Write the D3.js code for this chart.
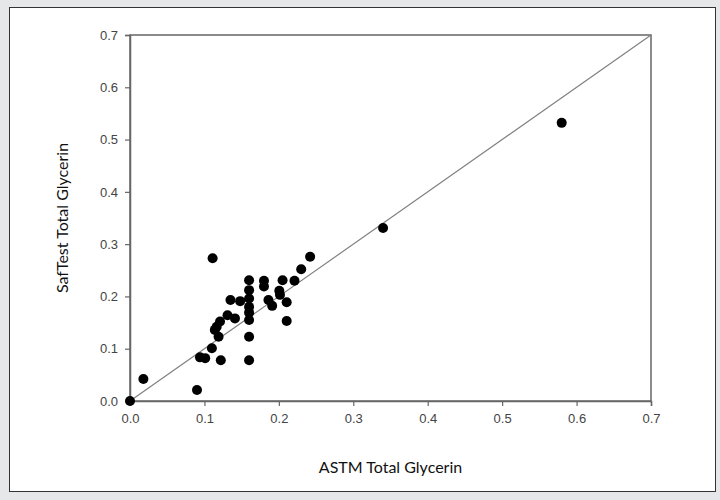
<!DOCTYPE html>
<html lang="en">
<head>
    <meta charset="UTF-8">
    <title>SafTest vs ASTM Total Glycerin</title>
    <style>
        body { margin: 0; background: #e6e7e9; font-family: Arial, "Liberation Sans", sans-serif; }
        svg { display: block; }
        .tick text { font-family: Arial, "Liberation Sans", sans-serif; font-size: 13px; fill: #444; }
        .axis-title { font-family: Lato, "Open Sans", sans-serif; font-size: 16px; fill: #111; }
    </style>
</head>
<body>
    <div id="chart"></div>
    <script src="https://cdnjs.cloudflare.com/ajax/libs/d3/7.8.5/d3.min.js"></script>
    <script>
        // data
        const astm = [0, 0.018, 0.09, 0.094, 0.101, 0.110, 0.111, 0.114, 0.1165, 0.119, 0.121, 0.122,
            0.131, 0.135, 0.141, 0.148,
            0.160, 0.160, 0.160, 0.160, 0.160, 0.160, 0.160, 0.160,
            0.180, 0.180, 0.186, 0.191, 0.2006, 0.2015, 0.205, 0.2105, 0.2105, 0.221, 0.230, 0.242,
            0.34, 0.58];
        const saftest = [0, 0.042, 0.021, 0.0835, 0.082, 0.101, 0.273, 0.136, 0.142, 0.123, 0.152, 0.078,
            0.164, 0.193, 0.158, 0.191,
            0.231, 0.212, 0.196, 0.180, 0.169, 0.155, 0.123, 0.078,
            0.230, 0.219, 0.193, 0.182, 0.211, 0.203, 0.231, 0.189, 0.153, 0.230, 0.252, 0.276,
            0.331, 0.532];
        const tickValues = [0, 0.1, 0.2, 0.3, 0.4, 0.5, 0.6, 0.7];
        const xTitle = "ASTM Total Glycerin";
        const yTitle = "SafTest Total Glycerin";

        const W = 720, H = 500;
        const svg = d3.select("#chart").append("svg").attr("width", W).attr("height", H);

        // white panel
        svg.append("rect")
            .attr("x", 9.5).attr("y", 7.5)
            .attr("width", 706).attr("height", 484)
            .attr("fill", "#fff").attr("stroke", "#333").attr("stroke-width", 1);

        const x = d3.scaleLinear().domain([0, 0.7]).range([130, 651]);
        const y = d3.scaleLinear().domain([0, 0.7]).range([401, 35]);

        // frame
        svg.append("rect")
            .attr("x", x(0)).attr("y", y(0.7))
            .attr("width", x(0.7) - x(0)).attr("height", y(0) - y(0.7))
            .attr("fill", "none").attr("stroke", "#666").attr("stroke-width", 1.5);

        const xAxis = svg.append("g")
            .attr("transform", `translate(0,${y(0)})`)
            .call(d3.axisBottom(x).tickValues(tickValues).tickFormat(d3.format(".1f")).tickSize(5).tickPadding(8));
        const yAxis = svg.append("g")
            .attr("transform", `translate(${x(0)},0)`)
            .call(d3.axisLeft(y).tickValues(tickValues).tickFormat(d3.format(".1f")).tickSize(5).tickPadding(7));
        [xAxis, yAxis].forEach(g => {
            g.select(".domain").attr("stroke", "#666").attr("stroke-width", 1.5);
            g.selectAll(".tick line").attr("stroke", "#666").attr("stroke-width", 1.2);
        });

        // 1:1 line
        svg.append("line")
            .attr("x1", x(0)).attr("y1", y(0))
            .attr("x2", x(0.7)).attr("y2", y(0.7))
            .attr("stroke", "#808080").attr("stroke-width", 1.2);

        const pts = astm.map((a, i) => ({ a: a, s: saftest[i] }));
        svg.append("g").selectAll("circle")
            .data(pts)
            .join("circle")
            .attr("cx", d => x(d.a))
            .attr("cy", d => y(d.s))
            .attr("r", 5)
            .attr("fill", "#000");

        svg.append("text")
            .attr("class", "axis-title")
            .attr("x", (x(0) + x(0.7)) / 2).attr("y", 473)
            .attr("text-anchor", "middle")
            .text(xTitle);

        svg.append("text")
            .attr("class", "axis-title")
            .attr("transform", `translate(68,218) rotate(-90)`)
            .attr("text-anchor", "middle")
            .text(yTitle);
    </script>
</body>
</html>
